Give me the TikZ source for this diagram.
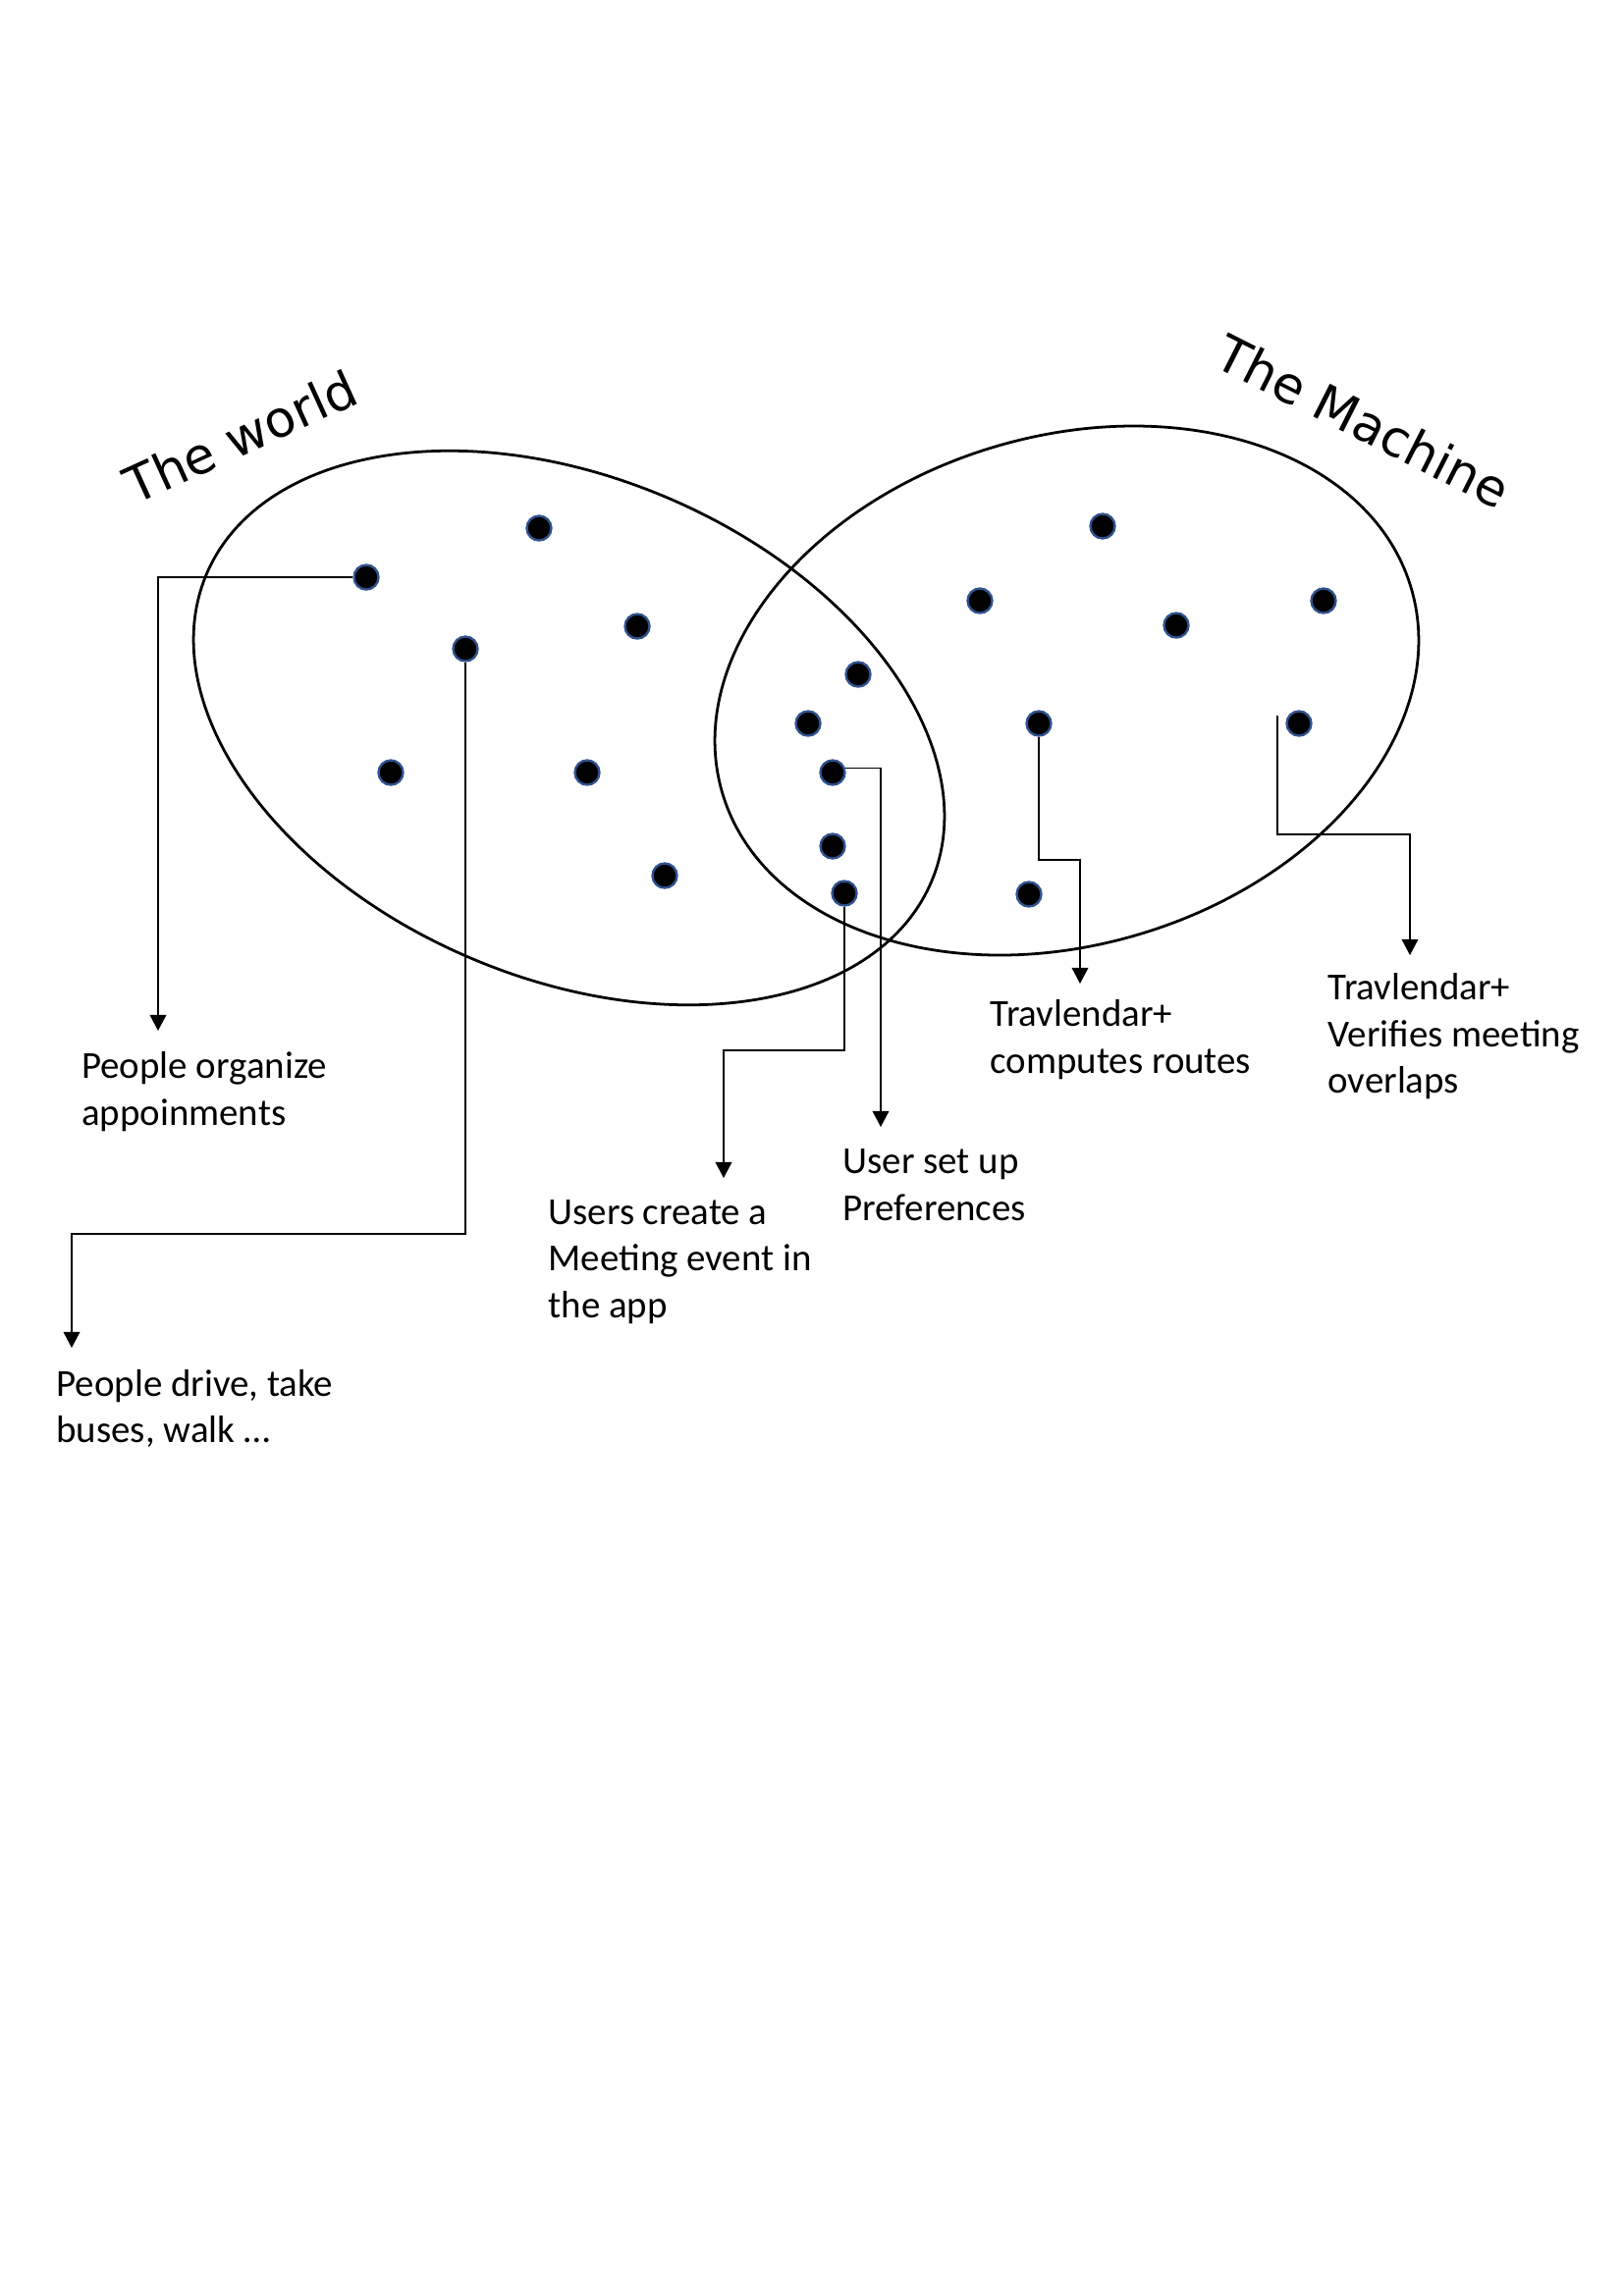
\documentclass[tikz,border=0pt]{standalone}
\usepackage{fontspec}
\setmainfont{Carlito}
\newfontfamily\titlefont{DejaVu Sans}
\usetikzlibrary{arrows.meta,calc}
\definecolor{dotblue}{RGB}{47,82,143}
\begin{document}
\begin{tikzpicture}[x=0.36pt,y=-0.36pt,
  dot/.style={circle, fill=black, draw=dotblue, line width=0.85pt, minimum size=9pt, inner sep=0pt},
  ell/.style={draw=black, line width=1pt},
  conn/.style={draw=black, line width=0.55pt},
  arr/.style={conn, -{Triangle[width=6pt,length=5.8pt]}},
  lbl/.style={anchor=north west, inner sep=0pt, align=left, font=\fontsize{14}{17.1}\selectfont},
  title/.style={anchor=base, inner sep=0pt, font=\titlefont\fontsize{18.5}{22}\selectfont}]
\fill[white] (0,0) rectangle (1653,2339);
\useasboundingbox (0,0) rectangle (1653,2339);

% titles
\node[title, rotate=24.5] (tworld) at (253,462) {The world};
\node[title, rotate=-26.8] (tmach) at (1380,446) {The Machine};

% ellipses
\draw[ell, rotate around={-23:(579.5,741.5)}] (579.5,741.5) ellipse [x radius=401, y radius=255];
\draw[ell, rotate around={16.7:(1086.5,703.5)}] (1086.5,703.5) ellipse [x radius=366, y radius=259];

% dots: world
\node[dot] (W1) at (373,588) {};
\node[dot] (W2) at (549,538) {};
\node[dot] (W3) at (474,661) {};
\node[dot] (W4) at (649,638) {};
\node[dot] (W5) at (398,787) {};
\node[dot] (W6) at (598,787) {};
\node[dot] (W7) at (677,892) {};
% dots: intersection
\node[dot] (I1) at (874,687) {};
\node[dot] (I2) at (823,737) {};
\node[dot] (I3) at (848,787) {};
\node[dot] (I4) at (848,862) {};
\node[dot] (I5) at (860,910) {};
% dots: machine
\node[dot] (M1) at (1123,536) {};
\node[dot] (M2) at (998,612) {};
\node[dot] (M3) at (1198,637) {};
\node[dot] (M4) at (1348,612) {};
\node[dot] (M5) at (1058,737) {};
\node[dot] (M6) at (1323,737) {};
\node[dot] (M7) at (1048,911) {};

% labels
\node[lbl] (L1) at (82.7,1064.7) {\strut People organize\\appoinments};
\node[lbl] (L2) at (57,1388.4) {\strut People drive, take\\buses, walk …};
\node[lbl] (L3) at (558,1213.4) {\strut Users create a\\Meeting event in\\the app};
\node[lbl] (L4) at (858,1161.7) {\strut User set up\\Preferences};
\node[lbl] (L5) at (1008,1011.7) {\strut Travlendar+\\computes routes};
\node[lbl] (L6) at (1352,984.7) {\strut Travlendar+\\Verifies meeting\\overlaps};

% arrow tips and free ends
\coordinate (tip1) at (161,1050);
\coordinate (tip2) at (73,1373);
\coordinate (tip3) at (737,1200);
\coordinate (tip4) at (897,1148);
\coordinate (tip5) at (1100,1002);
\coordinate (tip6) at (1436,973);
\coordinate (c6s) at ($(M6)+(-22,-8)$);

% connectors
\draw[arr] (W1.west) -| (tip1);
\draw[arr] (W3.south) |- ($(tip2)+(0,-116)$) -- (tip2);
\draw[arr] (I5.south) |- ($(tip3)+(0,-130)$) -- (tip3);
\draw[arr] (I3.20) -| (tip4);
\draw[arr] (M5.south) |- ($(tip5)+(0,-126)$) -- (tip5);
\draw[arr] (c6s) |- ($(tip6)+(0,-123)$) -- (tip6);
\end{tikzpicture}
\end{document}
